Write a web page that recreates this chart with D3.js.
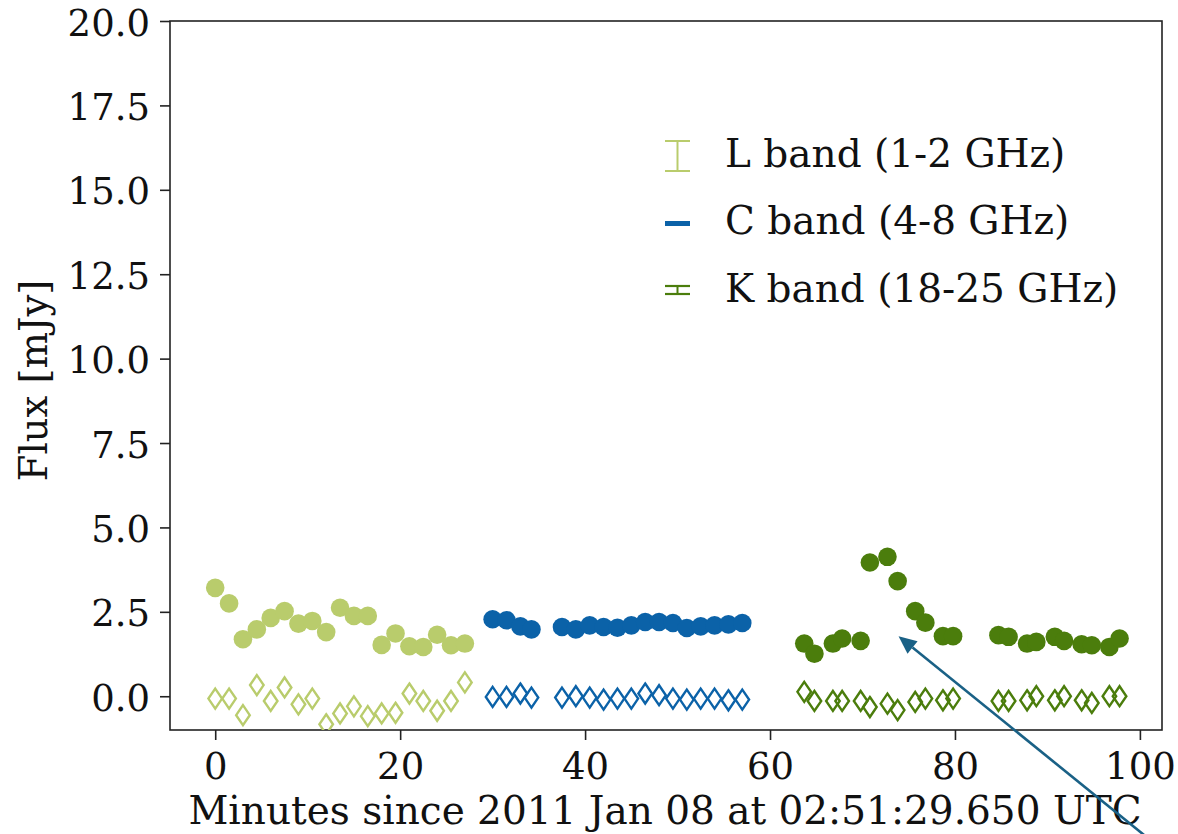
<!DOCTYPE html>
<html>
<head>
<meta charset="utf-8">
<script src="https://cdn.jsdelivr.net/npm/d3@7"></script>
<style>
  html, body { margin: 0; padding: 0; background: #fff; }
  svg { display: block; }
  text { font-family: "DejaVu Serif", serif; fill: #111; }
</style>
</head>
<body>
<svg id="chart" width="1178" height="834"></svg>
<script>
// ---------------- data ----------------
const lTime = [0, 1.5, 3, 4.5, 6, 7.5, 9, 10.5, 12, 13.5, 15, 16.5, 18, 19.5, 21, 22.5, 24, 25.5, 27];
const lFlux = [3.21, 2.75, 1.69, 1.98, 2.32, 2.52, 2.15, 2.23, 1.90, 2.62, 2.38, 2.38, 1.52, 1.86, 1.48, 1.46, 1.82, 1.51, 1.56];
const lOff  = [-0.07, -0.07, -0.56, 0.33, -0.14, 0.26, -0.24, -0.07, -0.83, -0.51, -0.30, -0.59, -0.51, -0.49, 0.08, -0.14, -0.43, -0.14, 0.41];

const cTime = [30, 31.5, 33, 34.2, 37.5, 39, 40.5, 42, 43.5, 45, 46.5, 48, 49.5, 51, 52.5, 54, 55.5, 57];
const cFlux = [2.28, 2.25, 2.07, 1.98, 2.05, 1.98, 2.10, 2.05, 2.03, 2.10, 2.20, 2.20, 2.17, 2.02, 2.07, 2.10, 2.13, 2.17];
const cOff  = [-0.02, -0.02, 0.08, -0.04, -0.04, 0.0, -0.04, -0.10, -0.07, -0.07, 0.08, 0.03, -0.07, -0.10, -0.07, -0.07, -0.12, -0.10];

const kTime = [63.7, 64.8, 66.8, 67.8, 69.8, 70.8, 72.7, 73.8, 75.7, 76.8, 78.7, 79.8,
               84.7, 85.8, 87.8, 88.8, 90.8, 91.8, 93.7, 94.8, 96.7, 97.8];
const kFlux = [1.56, 1.26, 1.56, 1.71, 1.64, 3.96, 4.13, 3.41, 2.52, 2.18, 1.78, 1.78,
               1.81, 1.76, 1.56, 1.61, 1.76, 1.64, 1.54, 1.51, 1.46, 1.71];
const kOff  = [0.13, -0.14, -0.14, -0.14, -0.14, -0.32, -0.22, -0.41, -0.17, -0.07, -0.12, -0.07,
               -0.14, -0.14, -0.12, 0.0, -0.12, 0.0, -0.12, -0.20, 0.0, 0.0];

const bandNames  = ["L band (1-2 GHz)", "C band (4-8 GHz)", "K band (18-25 GHz)"];
const bandColors = ["#b9cc6c", "#0b62a8", "#4b7d0c"];

const xTicks = [0, 20, 40, 60, 80, 100];
const yTicks = [0, 2.5, 5, 7.5, 10, 12.5, 15, 17.5, 20];
const xDomain = [-4.89, 102.39];
const yDomain = [-1.0, 20.0];

const xLabel = "Minutes since 2011 Jan 08 at 02:51:29.650 UTC";
const yLabel = "Flux [mJy]";

// arrow annotation: tip in data coords
const arrowTip = [73.9, 1.78];

// ---------------- layout ----------------
const svg = d3.select("#chart");
const plot = { left: 170, right: 1162, top: 21, bottom: 730 };

const x = d3.scaleLinear().domain(xDomain).range([plot.left, plot.right]);
const y = d3.scaleLinear().domain(yDomain).range([plot.bottom, plot.top]);

// axes
const xAxis = d3.axisBottom(x).tickValues(xTicks).tickFormat(d3.format("d")).tickSize(10).tickPadding(5);
const yAxis = d3.axisLeft(y).tickValues(yTicks).tickFormat(d3.format(".1f")).tickSize(10).tickPadding(10);

const gx = svg.append("g").attr("transform", `translate(0,${plot.bottom})`).call(xAxis);
const gy = svg.append("g").attr("transform", `translate(${plot.left},0)`).call(yAxis);
[gx, gy].forEach(g => {
  g.select(".domain").remove();
  g.selectAll(".tick line").attr("stroke", "#222").attr("stroke-width", 1.6);
  g.selectAll(".tick text").attr("font-family", "DejaVu Serif").attr("font-size", 37).attr("fill", "#111");
});
gx.selectAll(".tick text").attr("dy", "0.93em");
gy.selectAll(".tick text").attr("dy", "0.38em");

// frame
svg.append("rect")
  .attr("x", plot.left).attr("y", plot.top)
  .attr("width", plot.right - plot.left).attr("height", plot.bottom - plot.top)
  .attr("fill", "none").attr("stroke", "#222").attr("stroke-width", 1.6);

// axis labels
svg.append("text")
  .attr("x", 665).attr("y", 824)
  .attr("text-anchor", "middle").attr("font-size", 39).text(xLabel);
svg.append("text")
  .attr("transform", `translate(47,${(plot.top + plot.bottom) / 2 + 5}) rotate(-90)`)
  .attr("text-anchor", "middle").attr("font-size", 38.5).text(yLabel);

// data
const series = [
  { t: lTime, f: lFlux, o: lOff, c: bandColors[0] },
  { t: cTime, f: cFlux, o: cOff, c: bandColors[1] },
  { t: kTime, f: kFlux, o: kOff, c: bandColors[2] }
];

svg.append("defs").append("clipPath").attr("id", "plotclip")
  .append("rect").attr("x", plot.left).attr("y", plot.top)
  .attr("width", plot.right - plot.left).attr("height", plot.bottom - plot.top);

const dataG = svg.append("g").attr("clip-path", "url(#plotclip)");
const diamond = (cx, cy) => `M${cx},${cy - 10}L${cx + 6.8},${cy}L${cx},${cy + 10}L${cx - 6.8},${cy}Z`;

series.forEach(s => {
  const g = dataG.append("g");
  g.selectAll("path.off").data(s.t.map((t, i) => [t, s.o[i]])).join("path")
    .attr("class", "off")
    .attr("d", d => diamond(x(d[0]), y(d[1])))
    .attr("fill", "none").attr("stroke", s.c).attr("stroke-width", 2.4);
  g.selectAll("circle").data(s.t.map((t, i) => [t, s.f[i]])).join("circle")
    .attr("cx", d => x(d[0])).attr("cy", d => y(d[1])).attr("r", 9.3)
    .attr("fill", s.c);
});

// legend
const legX = 665, legW = 25;
const legBase = [167, 234, 301.5];
const lg = svg.append("g");
bandNames.forEach((name, i) => {
  lg.append("text").attr("x", 725).attr("y", legBase[i]).attr("font-size", 39).text(name);
});
// L handle: vertical error bar with caps
(() => {
  const c = bandColors[0], cx = legX + legW / 2, y0 = 141, y1 = 171;
  lg.append("line").attr("x1", cx).attr("x2", cx).attr("y1", y0).attr("y2", y1).attr("stroke", c).attr("stroke-width", 2);
  [y0, y1].forEach(yy => lg.append("line").attr("x1", legX).attr("x2", legX + legW).attr("y1", yy).attr("y2", yy).attr("stroke", c).attr("stroke-width", 2));
})();
// C handle: collapsed caps -> thick bar
(() => {
  const c = bandColors[1];
  lg.append("rect").attr("x", legX).attr("y", 221).attr("width", legW).attr("height", 5).attr("fill", c);
})();
// K handle: small error bar with caps
(() => {
  const c = bandColors[2], cx = legX + legW / 2, y0 = 286, y1 = 294;
  lg.append("line").attr("x1", cx).attr("x2", cx).attr("y1", y0).attr("y2", y1).attr("stroke", c).attr("stroke-width", 2);
  [y0, y1].forEach(yy => lg.append("line").attr("x1", legX).attr("x2", legX + legW).attr("y1", yy).attr("y2", yy).attr("stroke", c).attr("stroke-width", 2.2));
})();

// arrow annotation
(() => {
  const tx = x(arrowTip[0]), ty = y(arrowTip[1]);
  const ang = Math.atan2(0.81, 1); // direction from tip toward tail (down-right)
  const len = 400;
  const ex = tx + len * Math.cos(ang), ey = ty + len * Math.sin(ang);
  const ac = "#1a6186";
  const headL = 18, headW = 8;
  const bx = tx + headL * Math.cos(ang), by = ty + headL * Math.sin(ang);
  svg.append("line").attr("x1", bx).attr("y1", by).attr("x2", ex).attr("y2", ey)
    .attr("stroke", ac).attr("stroke-width", 2.6);
  const px = -Math.sin(ang), py = Math.cos(ang);
  svg.append("path")
    .attr("d", `M${tx},${ty}L${bx + headW * px},${by + headW * py}L${bx - headW * px},${by - headW * py}Z`)
    .attr("fill", ac);
})();
</script>
</body>
</html>
